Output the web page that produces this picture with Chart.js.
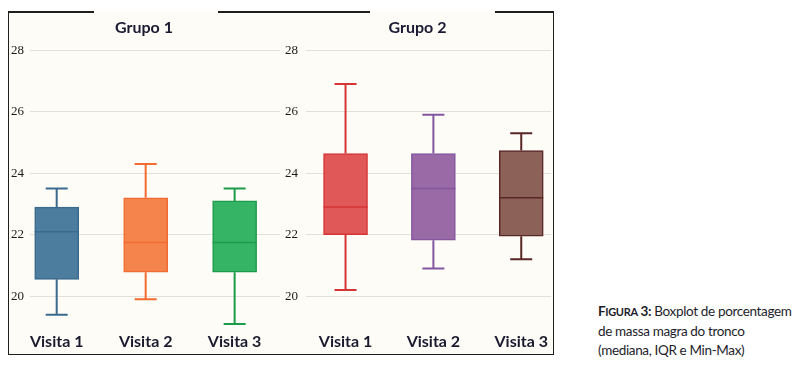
<!DOCTYPE html>
<html>
<head>
<meta charset="utf-8">
<script src="https://cdn.jsdelivr.net/npm/chart.js@4.4.1/dist/chart.umd.min.js"></script>
<style>
  body { margin: 0; background: #fff; width: 798px; height: 367px; position: relative; overflow: hidden; }
  .frame { position: absolute; left: 8px; top: 11px; width: 544px; height: 343px;
           background: #fdfcf7; border-left: 1.5px solid #1e1e1e; border-right: 1.5px solid #1e1e1e;
           border-bottom: 1.5px solid #1e1e1e; }
  .topline { position: absolute; top: 11px; height: 1.5px; background: #1e1e1e; }
  canvas { position: absolute; }
  #caption { position: absolute; left: 598px; top: 302px; font-family: Lato, sans-serif;
             font-size: 13.5px; line-height: 19.5px; color: #1d1d2b; white-space: nowrap; letter-spacing: -0.35px; }
  #caption b { font-weight: 700; }
  #caption b span { font-size: 11px; }
</style>
</head>
<body>
<div class="frame"></div>
<div class="topline" style="left:8px;width:86px"></div>
<div class="topline" style="left:218px;width:152px"></div>
<div class="topline" style="left:495px;width:59px"></div>
<canvas id="grupo1" width="274" height="344" style="left:8px;top:11px"></canvas>
<canvas id="grupo2" width="271" height="344" style="left:282px;top:11px"></canvas>
<div id="caption"><b>F<span>IGURA</span> 3:</b> Boxplot de porcentagem<br>de massa magra do tronco<br>(mediana, IQR e Min-Max)</div>
<script>
const visitas = ['Visita 1', 'Visita 2', 'Visita 3'];
const yTicks = [20, 22, 24, 26, 28];

// Grupo 1
const g1Min = [19.4, 19.9, 19.1];
const g1Q1 = [20.55, 20.78, 20.78];
const g1Med = [22.1, 21.75, 21.75];
const g1Q3 = [22.9, 23.2, 23.1];
const g1Max = [23.5, 24.3, 23.5];

// Grupo 2
const g2Min = [20.2, 20.9, 21.2];
const g2Q1 = [22.0, 21.82, 21.95];
const g2Med = [22.9, 23.5, 23.2];
const g2Q3 = [24.64, 24.64, 24.74];
const g2Max = [26.9, 25.9, 25.3];

const g1Fill = ['#4c7c9e', '#f5844c', '#36b466'];
const g1Line = ['#3a6a8d', '#f26b30', '#1c9c4b'];
const g2Fill = ['#e05858', '#9a6aa6', '#8b6158'];
const g2Line = ['#d63535', '#8456a0', '#5a2727'];

const boxWhiskers = {
    id: 'boxWhiskers',
    afterDatasetsDraw(chart) {
        const ctx = chart.ctx;
        const x = chart.scales.x;
        const y = chart.scales.y;
        const ds = chart.data.datasets[0];
        const meta = chart.getDatasetMeta(0);
        ds.data.forEach(function (d, i) {
            const cx = x.getPixelForValue(d.x);
            const half = meta.data[i].width / 2;
            const cap = half / 2;
            ctx.save();
            ctx.strokeStyle = ds.borderColor[i];
            ctx.lineWidth = 2;
            ctx.beginPath();
            // whiskers
            ctx.moveTo(cx, y.getPixelForValue(ds.stats.min[i]));
            ctx.lineTo(cx, y.getPixelForValue(d.y[0]));
            ctx.moveTo(cx, y.getPixelForValue(d.y[1]));
            ctx.lineTo(cx, y.getPixelForValue(ds.stats.max[i]));
            // caps
            ctx.moveTo(cx - cap, y.getPixelForValue(ds.stats.min[i]));
            ctx.lineTo(cx + cap, y.getPixelForValue(ds.stats.min[i]));
            ctx.moveTo(cx - cap, y.getPixelForValue(ds.stats.max[i]));
            ctx.lineTo(cx + cap, y.getPixelForValue(ds.stats.max[i]));
            ctx.stroke();
            // median
            ctx.lineWidth = 1.5;
            ctx.beginPath();
            ctx.moveTo(cx - half, y.getPixelForValue(ds.stats.med[i]));
            ctx.lineTo(cx + half, y.getPixelForValue(ds.stats.med[i]));
            ctx.stroke();
            ctx.restore();
        });
    }
};

function makeChart(id, title, mins, q1s, meds, q3s, maxs, fills, lines, xMin, xMax, yWidth, yPad, padRight) {
    const ctx = document.getElementById(id).getContext('2d');
    return new Chart(ctx, {
        type: 'bar',
        data: {
            datasets: [{
                data: visitas.map(function (v, i) { return { x: i, y: [q1s[i], q3s[i]] }; }),
                stats: { min: mins, med: meds, max: maxs },
                backgroundColor: fills,
                borderColor: lines,
                borderWidth: 1.5,
                borderSkipped: false,
                barThickness: 44
            }]
        },
        options: {
            responsive: false,
            animation: false,
            layout: { padding: { left: 0, right: padRight, top: 0, bottom: 0 } },
            plugins: {
                legend: { display: false },
                tooltip: { enabled: false },
                title: {
                    display: true,
                    text: title,
                    color: '#1a1a33',
                    font: { family: 'Lato', size: 16, weight: 'bold', lineHeight: 1.2 },
                    padding: { top: 7, bottom: 13 }
                }
            },
            scales: {
                x: {
                    type: 'linear',
                    min: xMin,
                    max: xMax,
                    offset: false,
                    grid: { display: false, drawTicks: false },
                    border: { display: false },
                    afterBuildTicks: function (scale) {
                        scale.ticks = visitas.map(function (v, i) { return { value: i }; });
                    },
                    afterFit: function (scale) { scale.height = 28; },
                    ticks: {
                        padding: 5,
                        color: '#1a1a2e',
                        font: { family: 'Lato', size: 16, weight: 'bold' },
                        callback: function (value) { return visitas[value]; }
                    }
                },
                y: {
                    min: 19,
                    max: 28,
                    border: { display: false },
                    grid: { color: '#e4dfd7', lineWidth: 1, drawTicks: false },
                    afterBuildTicks: function (scale) {
                        scale.ticks = yTicks.map(function (v) { return { value: v }; });
                    },
                    afterFit: function (scale) { scale.width = yWidth; },
                    ticks: {
                        padding: yPad,
                        color: '#1a1a1a',
                        font: { family: 'Liberation Serif', size: 13 }
                    }
                }
            }
        },
        plugins: [boxWhiskers]
    });
}

makeChart('grupo1', 'Grupo 1', g1Min, g1Q1, g1Med, g1Q3, g1Max, g1Fill, g1Line, -0.3, 2.51, 22, 6, 2);
makeChart('grupo2', 'Grupo 2', g2Min, g2Q1, g2Med, g2Q3, g2Max, g2Fill, g2Line, -0.45, 2.34, 24, 8, 0);
</script>
</body>
</html>
